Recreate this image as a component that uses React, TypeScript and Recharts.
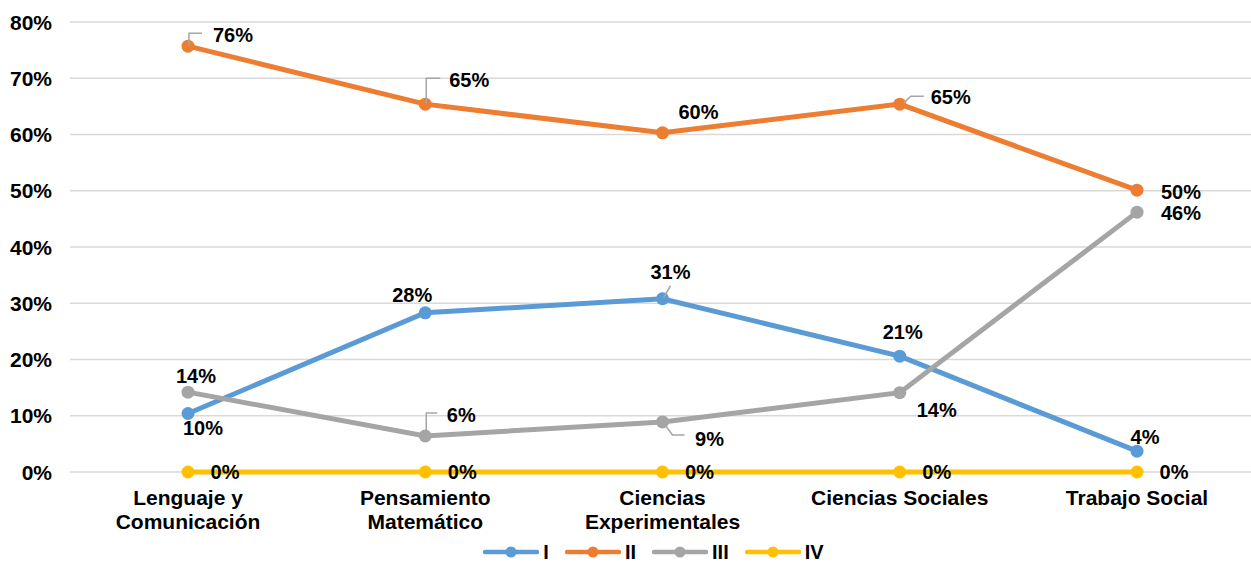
import { LineChart, Line, XAxis, YAxis, CartesianGrid, LabelList } from "recharts";

const categories = [
  "Lenguaje y\nComunicación",
  "Pensamiento\nMatemático",
  "Ciencias\nExperimentales",
  "Ciencias Sociales",
  "Trabajo Social",
];
const seriesI = [10.4, 28.3, 30.8, 20.6, 3.7];
const seriesII = [75.7, 65.4, 60.3, 65.4, 50.1];
const seriesIII = [14.2, 6.4, 8.9, 14.1, 46.2];
const seriesIV = [0, 0, 0, 0, 0];
const yTicks = [0, 10, 20, 30, 40, 50, 60, 70, 80];

const series = [
  { key: "I", color: "#5B9BD5", values: seriesI },
  { key: "II", color: "#ED7D31", values: seriesII },
  { key: "III", color: "#A5A5A5", values: seriesIII },
  { key: "IV", color: "#FFC000", values: seriesIV },
];

const data = categories.map((name, i) => {
  const row: Record<string, any> = { name };
  series.forEach((s) => (row[s.key] = s.values[i]));
  return row;
});

// label text centre relative to the point, plus optional leader line path
const labelPos: Record<string, [number, number, string?][]> = {
  I: [[15, 14], [-13, -18], [8, -27, "M1,-1 L8,-13"], [3, -24], [8, -14]],
  II: [[45, -11, "M1,-1 V-13 H14"], [44, -24, "M1,-1 V-26 H15"], [36, -21], [51, -7, "M4,-1 L11,-8 H24"], [44, 2]],
  III: [[8, -16], [36, -21, "M1,-1 V-23 H12"], [47, 17, "M4,5 L10,13 H22"], [37, 17], [44, 1]],
  IV: [[37, 0], [37, 0], [37, 0], [37, 0], [37, 0]],
};

const FONT = "'Liberation Sans', Arial, Helvetica, sans-serif";

const makeLabel = (key: string) => (props: any) => {
  const { x, y, value, index } = props;
  const [dx, dy, path] = labelPos[key][index];
  return (
    <g>
      {path && <path d={path} transform={`translate(${x},${y})`} fill="none" stroke="#A6A6A6" strokeWidth={1.5} />}
      <text
        x={x + dx}
        y={y + dy}
        textAnchor="middle"
        dominantBaseline="central"
        fontFamily={FONT}
        fontWeight="bold"
        fontSize={20}
        fill="#000"
      >
        {Math.round(value)}%
      </text>
    </g>
  );
};

const XTick = ({ x, y, payload }: any) => {
  const lines = String(payload.value).split("\n");
  return (
    <g>
      {lines.map((l, i) => (
        <text
          key={i}
          x={x}
          y={y + 17 + i * 24}
          textAnchor="middle"
          dominantBaseline="central"
          fontFamily={FONT}
          fontWeight="bold"
          fontSize={21}
          fill="#000"
        >
          {l}
        </text>
      ))}
    </g>
  );
};

const YTick = ({ x, y, payload }: any) => (
  <text x={x} y={y} textAnchor="end" dominantBaseline="central" fontFamily={FONT} fontWeight="bold" fontSize={21} fill="#000">
    {payload.value}%
  </text>
);

export default function App() {
  return (
    <div style={{ position: "absolute", left: 0, top: 0, width: 1251, height: 564, overflow: "hidden", background: "#fff" }}>
      <LineChart width={1265} height={564} data={data} margin={{ top: 22, right: 9, left: 0, bottom: 0 }}>
        <CartesianGrid vertical={false} stroke="#D9D9D9" strokeWidth={1.5} />
        <XAxis
          dataKey="name"
          axisLine={false}
          tickLine={false}
          height={92}
          tick={<XTick />}
          interval={0}
          padding={{ left: 118, right: 119 }}
        />
        <YAxis
          domain={[0, 80]}
          ticks={yTicks}
          axisLine={false}
          tickLine={false}
          width={70}
          tickMargin={12}
          tick={<YTick />}
        />
        {series.map((s) => (
          <Line
            key={s.key}
            dataKey={s.key}
            stroke={s.color}
            strokeWidth={5}
            dot={{ r: 6.5, fill: s.color, stroke: s.color, strokeWidth: 0 }}
            activeDot={false}
            isAnimationActive={false}
          >
            <LabelList dataKey={s.key} content={makeLabel(s.key)} />
          </Line>
        ))}
      </LineChart>
      <div
        style={{
          position: "absolute",
          top: 541,
          left: 0,
          width: 1251,
          height: 22,
          display: "flex",
          justifyContent: "center",
          paddingLeft: 72,
          boxSizing: "border-box",
          fontFamily: FONT,
          fontWeight: "bold",
          fontSize: 20,
          lineHeight: "22px",
        }}
      >
        {series.map((s) => (
          <div key={s.key} style={{ display: "flex", alignItems: "center", marginRight: 16, height: 22 }}>
            <svg width={56} height={14} style={{ marginRight: 4 }}>
              <line x1={2} y1={7} x2={54} y2={7} stroke={s.color} strokeWidth={4.5} strokeLinecap="round" />
              <circle cx={28} cy={7} r={5.5} fill={s.color} />
            </svg>
            <span>{s.key}</span>
          </div>
        ))}
      </div>
    </div>
  );
}
